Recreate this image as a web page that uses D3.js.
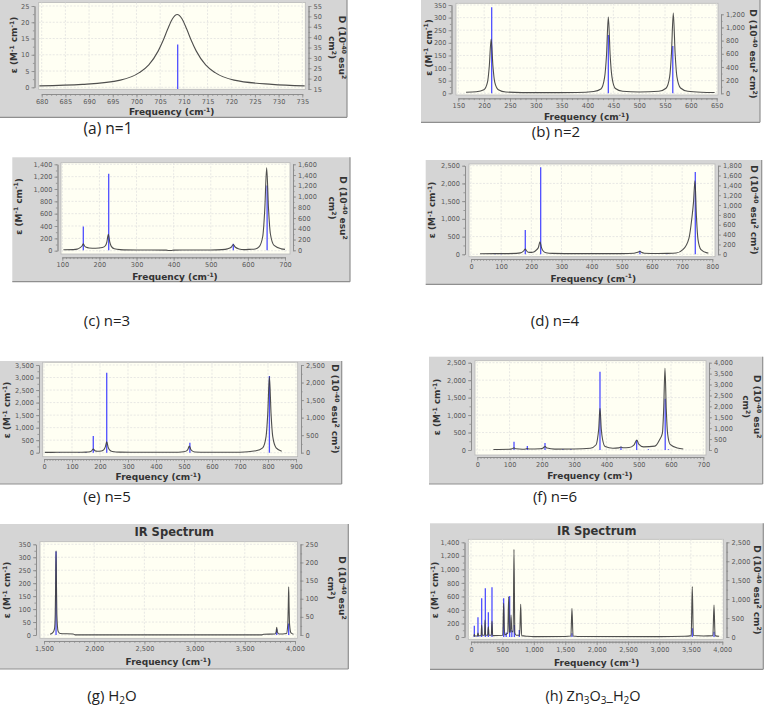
<!DOCTYPE html>
<html><head><meta charset="utf-8">
<script src="https://cdn.jsdelivr.net/npm/d3@7"></script>
<style>body{margin:0;background:#fff}</style>
</head><body>
<svg id="c" width="764" height="707"></svg>
<script>
// ---------------- DATA ----------------
// spectrum curves: [frequency cm-1, epsilon]
const curveA = [[679.5,0.45],[688.6,0.9],[696.6,2.2],[700.6,4.5],[702.6,6.9],[704.6,11.2],[705.6,14.3],[706.6,17.9],[707.6,21.1],[708.6,22.4],[709.6,21.1],[710.6,17.9],[711.6,14.3],[712.6,11.2],[714.6,6.9],[716.6,4.5],[720.6,2.2],[728.6,0.9],[735.5,0.45]];
const sticksA = [[708.7,36.5]];

const curveB = [[165,4],[185,6],[199.5,14],[206.5,44],[210,108],[213.5,215],[217,108],[220.5,44],[227.5,14],[242,5],[300,2.5],[380,3],[412,7],[426,17],[433,62],[436.8,152],[440.3,302],[443.8,152],[447.5,62],[454,19],[468,8],[500,5],[538,8],[552,20],[559,66],[562.5,160],[566,318],[569.5,160],[573,66],[580,21],[594,8],[620,4],[646,3]];
const sticksB = [[214.6,1306],[440.3,886],[565,718]];

const curveC = [[103,15],[130,18],[140,26],[148,50],[152.6,72],[156.6,110],[160.6,72],[164.6,55],[172,45],[190,40],[208,52],[216,80],[220,140],[224,265],[228,138],[232,70],[240,32],[256,18],[300,12],[380,10],[386,3],[394,3],[400,10],[500,12],[530,18],[545,30],[555.7,60],[560.7,100],[565.7,60],[576,28],[590,18],[605,22],[620,28],[630,60],[640,230],[645.6,680],[650.6,1345],[655.6,680],[660.6,275],[670.6,85],[690,30],[700,22]];
const sticksC = [[156.6,444],[225,1423],[560.7,121],[651.8,1204]];

const curveD = [[30,15],[80,18],[100,18],[150,25],[164,40],[172,75],[176,110],[180,150],[184,100],[190,60],[200,55],[210,75],[218,130],[223.7,200],[228.7,356],[233.7,190],[238.7,100],[248.7,45],[270,25],[350,18],[500,20],[540,30],[550,50],[555,65],[560,85],[565,55],[575,30],[620,22],[650,25],[680,35],[702.5,130],[722.5,450],[732.5,1040],[737.5,1450],[742.5,2077],[747.5,1050],[752.5,420],[762.5,130],[782.5,40],[787,35]];
const sticksD = [[80,10],[100,8],[180,494],[231,1767],[560,73],[650,12],[743.6,1672]];

const curveE = [[3,12],[50,15],[120,15],[150,22],[164,40],[170,75],[176,148],[182,75],[190,55],[205,70],[214,120],[219,230],[224,440],[229,225],[234,115],[244,45],[270,22],[400,15],[480,20],[499,38],[509,72],[514,140],[519,267],[524,140],[529,72],[539,30],[580,15],[700,20],[757,75],[781,195],[793,640],[799,1530],[805,3034],[811,1530],[817,640],[829,195],[849,60]];
const sticksE = [[55,12],[125,10],[150,10],[176,476],[224,2281],[521,285],[805,2187]];

const curveF = [[50,15],[100,20],[108,35],[113.7,60],[119,35],[140,22],[150,30],[155,42],[160,30],[195,35],[204,60],[210,100],[216,55],[240,25],[300,28],[350,50],[368,150],[372,300],[376,600],[380,1194],[384,600],[388,300],[396,100],[420,50],[438,60],[445,85],[452,65],[470,70],[485,140],[494,286],[500,170],[515,90],[550,110],[565,300],[573.3,480],[577.3,1170],[581.3,2340],[585.3,1170],[589.3,480],[597.3,160],[620,55],[638,30]];
const sticksF = [[113.7,382],[155,183],[209.7,321],[265,30],[290,30],[380,3588],[445,153],[493.6,458],[530,30],[582,2351],[592,40]];

const curveG = [[1560,3],[1590,10],[1605,25],[1612,80],[1616,200],[1620,325],[1624,200],[1628,80],[1640,15],[1660,6],[1790,4],[1810,0.5],[3670,0.5],[3690,3],[3800,4],[3812,12],[3818,30],[3824,12],[3840,4],[3915,6],[3928,40],[3933,110],[3937,186],[3941,110],[3946,40],[3960,8],[3985,3]];
const sticksG = [[1620,230],[3818,16],[3937,32]];

const curveH = [[40,15],[45,15],[53,35],[62,15],[100,15],[111,60],[122,18],[160,20],[170,177],[180,25],[215,25],[223,251],[232,30],[265,25],[276,152],[287,25],[323,25],[334,237],[345,20],[505,25],[520,498],[535,30],[560,40],[585,60],[600,596],[612,80],[628,70],[637,325],[650,80],[672,80],[684,1296],[698,60],[720,25],[775,25],[791,483],[806,20],[900,10],[1000,5],[1500,8],[1590,15],[1607,424],[1624,15],[1700,8],[3000,5],[3400,10],[3505,20],[3522,744],[3539,22],[3700,15],[3850,20],[3868,473],[3885,20],[3950,10]];
const sticksH = [[53,298],[111,520],[170,1021],[228,1285],[276,652],[334,1312],[520,1021],[560,120],[615,1082],[650,180],[690,317],[769,185],[1607,98],[3522,229],[3868,140]];

// tick values
const xTicksA = [680,685,690,695,700,705,710,715,720,725,730,735];
const yTicksA = [0,5,10,15,20,25];
const rTicksA = [15,20,25,30,35,40,45,50,55];
const xTicksB = [150,200,250,300,350,400,450,500,550,600,650];
const yTicksB = [0,50,100,150,200,250,300,350];
const rTicksB = [0,200,400,600,800,1000,1200];
const xTicksC = [100,200,300,400,500,600,700];
const yTicksC = [0,200,400,600,800,1000,1200,1400];
const rTicksC = [0,200,400,600,800,1000,1200,1400,1600];
const xTicksD = [0,100,200,300,400,500,600,700,800];
const yTicksD = [0,500,1000,1500,2000,2500];
const rTicksD = [0,200,400,600,800,1000,1200,1400,1600,1800];
const xTicksE = [0,100,200,300,400,500,600,700,800,900];
const yTicksE = [0,500,1000,1500,2000,2500,3000,3500];
const rTicksE = [0,500,1000,1500,2000,2500];
const xTicksF = [0,100,200,300,400,500,600,700];
const yTicksF = [0,500,1000,1500,2000,2500];
const rTicksF = [0,500,1000,1500,2000,2500,3000,3500,4000];
const xTicksG = [1500,2000,2500,3000,3500,4000];
const yTicksG = [0,50,100,150,200,250,300,350];
const rTicksG = [0,50,100,150,200,250];
const xTicksH = [0,500,1000,1500,2000,2500,3000,3500,4000];
const yTicksH = [0,200,400,600,800,1000,1200,1400];
const rTicksH = [0,500,1000,1500,2000,2500];

// captions: [main, sub, main, sub, ...]
const captionA = ["(a) n=1"];
const captionB = ["(b) n=2"];
const captionC = ["(c) n=3"];
const captionD = ["(d) n=4"];
const captionE = ["(e) n=5"];
const captionF = ["(f) n=6"];
const captionG = ["(g) H","2","O"];
const captionH = ["(h) Zn","3","O","3","_H","2","O"];
const chartTitle = "IR Spectrum";

// ---------------- LAYOUT ----------------
const panels = [
 {curve:curveA, sticks:sticksA, xt:xTicksA, yt:yTicksA, rt:rTicksA, xMinor:1, yMinor:2.5, rMinor:2.5, cap:captionA,
  bg:[0,-20,347,117.3], plot:[38.7,2.5,305.3,89.3], xd:[680,735], xr:[41.7,302.3], yd:[0,25], yr:[87.3,6], rd:[15,55], rr:[89,6],
  axY:94, axL:34.5, axR:308.5, freq:[171.7,112], ylab:[14,45], rlab:{two:true, x1:341.7, x2:331.7, cy:47.5}, capPos:[108,128.5], capSize:15.5},
 {curve:curveB, sticks:sticksB, xt:xTicksB, yt:yTicksB, rt:rTicksB, xMinor:10, yMinor:25, rMinor:100, cap:captionB,
  bg:[421,-20,760,122.3], plot:[456,3.3,718,95], xd:[150,650], xr:[458.3,716.7], yd:[0,350], yr:[93.3,5], rd:[0,1200], rr:[93.3,14.3],
  axY:98.3, axL:451.5, axR:721, freq:[586.7,117], ylab:[428.3,47.5], rlab:{two:false, x1:753.3, cy:54}, capPos:[556,132], capSize:15},
 {curve:curveC, sticks:sticksC, xt:xTicksC, yt:yTicksC, rt:rTicksC, xMinor:10, yMinor:100, rMinor:100, cap:captionC,
  bg:[12.3,157.3,350,281.7], plot:[61,162.7,290,254], xd:[100,700], xr:[62.3,285], yd:[0,1400], yr:[250.7,164.3], rd:[0,1600], rr:[250.3,164.3],
  axY:257.3, axL:57.5, axR:293, freq:[175,276.7], ylab:[18.3,206.5], rlab:{two:true, x1:343.3, x2:331.7, cy:208}, capPos:[107,321], capSize:15},
 {curve:curveD, sticks:sticksD, xt:xTicksD, yt:yTicksD, rt:rTicksD, xMinor:10, yMinor:250, rMinor:100, cap:captionD,
  bg:[425.7,160,761.7,284.3], plot:[469,164,715,256.7], xd:[0,800], xr:[471,712.3], yd:[0,2500], yr:[254.3,165.7], rd:[0,1800], rr:[254.3,165.7],
  axY:259, axL:465, axR:718, freq:[593.3,278.3], ylab:[431.7,210], rlab:{two:false, x1:754.3, cy:210}, capPos:[555,321], capSize:15},
 {curve:curveE, sticks:sticksE, xt:xTicksE, yt:yTicksE, rt:rTicksE, xMinor:10, yMinor:250, rMinor:250, cap:captionE,
  bg:[0,361,341.7,484], plot:[42.7,362.3,297.7,456.7], xd:[0,900], xr:[44,296], yd:[0,3500], yr:[452.7,365], rd:[0,2500], rr:[452.7,365],
  axY:459, axL:39, axR:301, freq:[158.3,476.7], ylab:[6.5,410], rlab:{two:false, x1:335, cy:409}, capPos:[107,497], capSize:15},
 {curve:curveF, sticks:sticksF, xt:xTicksF, yt:yTicksF, rt:rTicksF, xMinor:10, yMinor:250, rMinor:250, cap:captionF,
  bg:[429,356.7,762.7,484], plot:[475,360.7,706,455], xd:[0,700], xr:[477.3,703.3], yd:[0,2500], yr:[450,362.7], rd:[0,4000], rr:[450,362.7],
  axY:457, axL:471, axR:709, freq:[590,476], ylab:[436.7,407], rlab:{two:true, x1:756.7, x2:745.7, cy:406.7}, capPos:[555,497], capSize:15},
 {curve:curveG, sticks:sticksG, xt:xTicksG, yt:yTicksG, rt:rTicksG, xMinor:50, yMinor:25, rMinor:25, cap:captionG,
  bg:[0,524,348.3,669], plot:[40,541.7,297.3,638.3], xd:[1500,4000], xr:[44,295], yd:[0,350], yr:[635,544.3], rd:[0,250], rr:[635,544.3],
  axY:641, axL:36, axR:300.5, freq:[168.3,661.7], ylab:[6.7,590], rlab:{two:true, x1:341.7, x2:331, cy:588}, title:[174.3,531.7], capPos:[112,695.5], capSize:15},
 {curve:curveH, sticks:sticksH, xt:xTicksH, yt:yTicksH, rt:rTicksH, xMinor:50, yMinor:100, rMinor:250, cap:captionH,
  bg:[430,523.3,763.3,669.3], plot:[468.3,539.3,723.3,639.3], xd:[0,4000], xr:[471,722.3], yd:[0,1400], yr:[637,542.3], rd:[0,2500], rr:[637,542.3],
  axY:641.7, axL:464.5, axR:726.5, freq:[596.7,662.7], ylab:[435,590], rlab:{two:false, x1:756.7, cy:590}, title:[596.7,530.7], capPos:[593,695.5], capSize:14.5}
];

const svg = d3.select('#c');
svg.append('rect').attr('width',764).attr('height',707).attr('fill','#fff');
const fmt = d3.format(",");
const TICKFONT = '6.6px "DejaVu Sans"';
const LABFONT = 'bold 9px "DejaVu Sans"';

function styleAxis(sel){
  sel.select('.domain').attr('stroke','#8a8a8a').attr('stroke-width',0.8);
  sel.selectAll('.tick line').attr('stroke','#8a8a8a').attr('stroke-width',0.8);
  sel.selectAll('.tick text').attr('fill','#5a5a5a').style('font',TICKFONT);
}
function minors(d, step){
  const lo = Math.min(d[0],d[1]), hi = Math.max(d[0],d[1]);
  return d3.range(lo, hi + step*0.001, step);
}
function addSup(t, parts, size, shift){
  let cur = 0;
  parts.forEach(([s, sup])=>{
    const ts = t.append('tspan').text(s);
    const target = sup ? -shift : 0;
    if (target !== cur) ts.attr('dy', target - cur);
    cur = target;
    if (sup) ts.style('font-size', size+'px');
  });
}

panels.forEach((p,i)=>{
  const g = svg.append('g');
  const [bx0,by0,bx1,by1] = p.bg;
  g.append('rect').attr('x',bx0).attr('y',by0).attr('width',bx1-bx0).attr('height',by1-by0).attr('fill','#d5d5d5');
  g.append('line').attr('x1',bx1).attr('x2',bx1).attr('y1',by0).attr('y2',by1).attr('stroke','#8f8f8f').attr('stroke-width',1.2);
  g.append('line').attr('x1',bx0).attr('x2',bx1).attr('y1',by1).attr('y2',by1).attr('stroke','#8f8f8f').attr('stroke-width',1.2);

  const [px0,py0,px1,py1] = p.plot;
  const x = d3.scaleLinear().domain(p.xd).range(p.xr);
  const yL = d3.scaleLinear().domain(p.yd).range(p.yr);
  const yR = d3.scaleLinear().domain(p.rd).range(p.rr);

  g.append('rect').attr('x',px0).attr('y',py0).attr('width',px1-px0).attr('height',py1-py0)
    .attr('fill','#fffff3').attr('stroke','#b8b8b8').attr('stroke-width',0.8);

  const grid = g.append('g').attr('stroke','#dedede').attr('stroke-width',0.7).attr('stroke-dasharray','2,1.5');
  grid.selectAll('line.v').data(p.xt.filter(v=>x(v)>px0+0.5 && x(v)<px1-0.5)).join('line')
    .attr('x1',d=>x(d)).attr('x2',d=>x(d)).attr('y1',py0).attr('y2',py1);
  grid.selectAll('line.h').data(p.yt.filter(v=>yL(v)>py0+0.5 && yL(v)<py1-0.5)).join('line')
    .attr('x1',px0).attr('x2',px1).attr('y1',d=>yL(d)).attr('y2',d=>yL(d));

  const cid = 'clip'+i;
  svg.append('clipPath').attr('id',cid).append('rect').attr('x',px0).attr('y',py0).attr('width',px1-px0).attr('height',py1-py0);
  const inner = g.append('g').attr('clip-path',`url(#${cid})`);

  const base = Math.max(0, p.rd[0]);
  inner.selectAll('line.stick').data(p.sticks).join('line')
    .attr('x1',d=>x(d[0])).attr('x2',d=>x(d[0]))
    .attr('y1',yR(base)).attr('y2',d=>yR(d[1]))
    .attr('stroke','#4f4fff').attr('stroke-width',1.3);

  const line = d3.line().x(d=>x(d[0])).y(d=>yL(d[1])).curve(d3.curveMonotoneX);
  inner.append('path').datum(p.curve).attr('d',line)
    .attr('fill','none').attr('stroke','#3c3c3c').attr('stroke-width',1.1).attr('stroke-opacity',0.9);

  const ax = g.append('g').attr('transform',`translate(0,${p.axY})`)
    .call(d3.axisBottom(x).tickValues(p.xt).tickFormat(fmt).tickSize(3.5).tickPadding(2).tickSizeOuter(0));
  styleAxis(ax);
  const axm = g.append('g').attr('transform',`translate(0,${p.axY})`)
    .call(d3.axisBottom(x).tickValues(minors(p.xd,p.xMinor)).tickFormat('').tickSize(1.8).tickSizeOuter(0));
  styleAxis(axm);

  const al = g.append('g').attr('transform',`translate(${p.axL},0)`)
    .call(d3.axisLeft(yL).tickValues(p.yt).tickFormat(fmt).tickSize(3).tickPadding(2).tickSizeOuter(0));
  styleAxis(al);
  const alm = g.append('g').attr('transform',`translate(${p.axL},0)`)
    .call(d3.axisLeft(yL).tickValues(minors(p.yd,p.yMinor)).tickFormat('').tickSize(1.6).tickSizeOuter(0));
  styleAxis(alm);

  const ar = g.append('g').attr('transform',`translate(${p.axR},0)`)
    .call(d3.axisRight(yR).tickValues(p.rt).tickFormat(fmt).tickSize(3).tickPadding(2).tickSizeOuter(0));
  styleAxis(ar);
  const arm = g.append('g').attr('transform',`translate(${p.axR},0)`)
    .call(d3.axisRight(yR).tickValues(minors(p.rd,p.rMinor)).tickFormat('').tickSize(1.6).tickSizeOuter(0));
  styleAxis(arm);

  const ft = g.append('text').attr('x',p.freq[0]).attr('y',p.freq[1]+3.2).attr('text-anchor','middle')
    .style('font',LABFONT).attr('fill','#333');
  addSup(ft, [['Frequency (cm',false],['-1',true],[')',false]], 6, 3.2);

  const lt = g.append('text').attr('transform',`translate(${p.ylab[0]+3.2},${p.ylab[1]}) rotate(-90)`)
    .attr('text-anchor','middle').style('font',LABFONT).attr('fill','#333');
  addSup(lt, [['ε (M',false],['-1',true],[' cm',false],['-1',true],[')',false]], 6, 3.2);

  const r = p.rlab;
  if (r.two){
    const t1 = g.append('text').attr('transform',`translate(${r.x1-3.2},${r.cy}) rotate(90)`)
      .attr('text-anchor','middle').style('font',LABFONT).attr('fill','#333');
    addSup(t1, [['D (10',false],['-40',true],[' esu',false],['2',true]], 6, 3.2);
    const t2 = g.append('text').attr('transform',`translate(${r.x2-3.2},${r.cy}) rotate(90)`)
      .attr('text-anchor','middle').style('font',LABFONT).attr('fill','#333');
    addSup(t2, [['cm',false],['2',true],[')',false]], 6, 3.2);
  } else {
    const t1 = g.append('text').attr('transform',`translate(${r.x1-3.2},${r.cy}) rotate(90)`)
      .attr('text-anchor','middle').style('font',LABFONT).attr('fill','#333');
    addSup(t1, [['D (10',false],['-40',true],[' esu',false],['2',true],[' cm',false],['2',true],[')',false]], 6, 3.2);
  }

  if (p.title){
    g.append('text').attr('x',p.title[0]).attr('y',p.title[1]+4).attr('text-anchor','middle')
      .style('font','bold 11.5px "DejaVu Sans"').attr('fill','#333').text(chartTitle);
  }

  const ct = svg.append('text').attr('x',p.capPos[0]).attr('y',p.capPos[1]+5).attr('text-anchor','middle')
    .style('font',`${p.capSize}px "Open Sans"`).attr('fill','#222');
  let sub = false;
  p.cap.forEach((s,k)=>{
    const isSub = k % 2 === 1;
    const ts = ct.append('tspan').text(s);
    if (isSub && !sub){ ts.attr('dy',3).style('font-size','10px'); sub = true; }
    else if (!isSub && sub){ ts.attr('dy',-3); sub = false; }
  });
});
</script>
</body></html>
